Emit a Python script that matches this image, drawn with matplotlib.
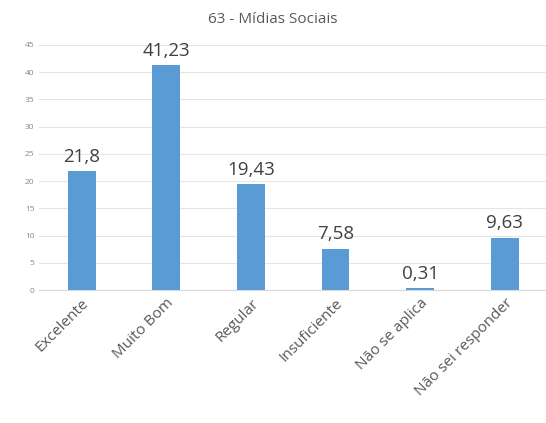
import matplotlib.pyplot as plt

plt.rcParams['font.family'] = ['Open Sans', 'DejaVu Sans']

categorias = ["Excelente", "Muito Bom", "Regular", "Insuficiente", "Não se aplica", "Não sei responder"]
valores = [21.8, 41.23, 19.43, 7.58, 0.31, 9.63]
rotulos = ["21,8", "41,23", "19,43", "7,58", "0,31", "9,63"]

fig = plt.figure(figsize=(5.46, 4.23), dpi=100)
ax = fig.add_axes([0.072, 0.314, 0.93, 0.58])

x = range(len(categorias))
barras = ax.bar(x, valores, width=0.33, color="#5B9BD5")
for b, r in zip(barras, rotulos):
    ax.text(b.get_x() + b.get_width() / 2, b.get_height() + 1.0, r,
            ha="center", va="bottom", fontsize=13.5, color="#404040")

ax.set_xlim(-0.5, len(categorias) - 0.5)
ax.set_ylim(0, 45)
ax.set_yticks(range(0, 46, 5))
ax.tick_params(axis="y", labelsize=6, colors="#888888", length=0)
ax.tick_params(axis="x", length=0, pad=4)
ax.set_xticks(list(x))
ax.set_xticklabels(categorias, rotation=45, ha="right", rotation_mode="anchor",
                   fontsize=11, color="#595959")
ax.grid(axis="y", color="#E5E5E5", linewidth=0.8)
ax.set_axisbelow(True)
for s in ["top", "right", "left"]:
    ax.spines[s].set_visible(False)
ax.spines["bottom"].set_color("#D9D9D9")

fig.text(0.5, 0.955, "63 - Mídias Sociais", ha="center", va="center",
         fontsize=11, color="#595959")

fig.savefig("out.png", dpi=100)
